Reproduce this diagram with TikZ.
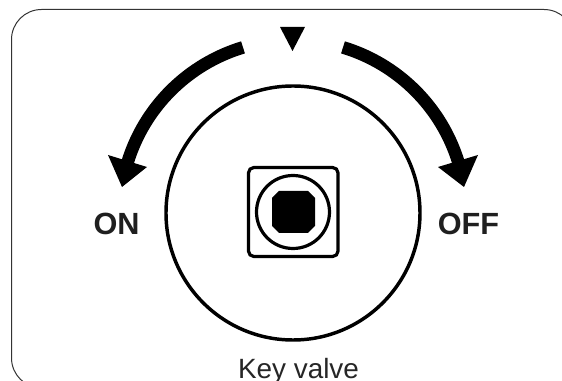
\documentclass[tikz,border=0pt]{standalone}
\usepackage{fontspec}
\setmainfont{Liberation Sans}
\tikzset{
  px/.style={x=0.75pt,y=-0.75pt},
  lab/.style={font=\fontsize{23pt}{23pt}\selectfont\bfseries,text=black!88,inner sep=0pt,anchor=base},
  captext/.style={font=\fontsize{20.9pt}{20.9pt}\selectfont,text=black!85,inner sep=0pt,anchor=base}
}
\begin{document}
\begin{tikzpicture}[px]
\useasboundingbox (0,0) rectangle (562,381);
\fill[white] (0,0) rectangle (562,381);
\begin{scope}
\clip (0,0) rectangle (562,381);
\draw[line width=0.75pt,black!80,rounded corners=22.5pt] (11.5,9.5) rectangle (574,388);
\end{scope}
\draw[line width=2.6pt] (293,213) circle (127);
\draw[line width=2.4pt,rounded corners=4pt] (248.5,167.5) rectangle (338,256.5);
\draw[line width=2.4pt] (293,212) circle (36.5);
\fill (279,191) -- (308,191) -- (315,198) -- (315,226) -- (308,233) -- (279,233) -- (272,226) -- (272,198) -- cycle;
\fill (280,27) -- (305,27) -- (292.5,51) -- cycle;
% left arrow
\draw[line width=9.5pt] (293,213) ++(-106.8:173) arc (-106.8:-163:173);
\fill (108,155) -- (147,167) -- (122,187) -- cycle;
% right arrow
\draw[line width=9.5pt] (293,213) ++(-73.2:173) arc (-73.2:-17:173);
\fill (478,155) -- (438,167) -- (464,187) -- cycle;
\node[lab] (on) at (116.5,234.5) {ON};
\node[lab] (off) at (468.5,234.5) {OFF};
\node[captext] (key) at (298.5,378.5) {Key valve};
\end{tikzpicture}
\end{document}
